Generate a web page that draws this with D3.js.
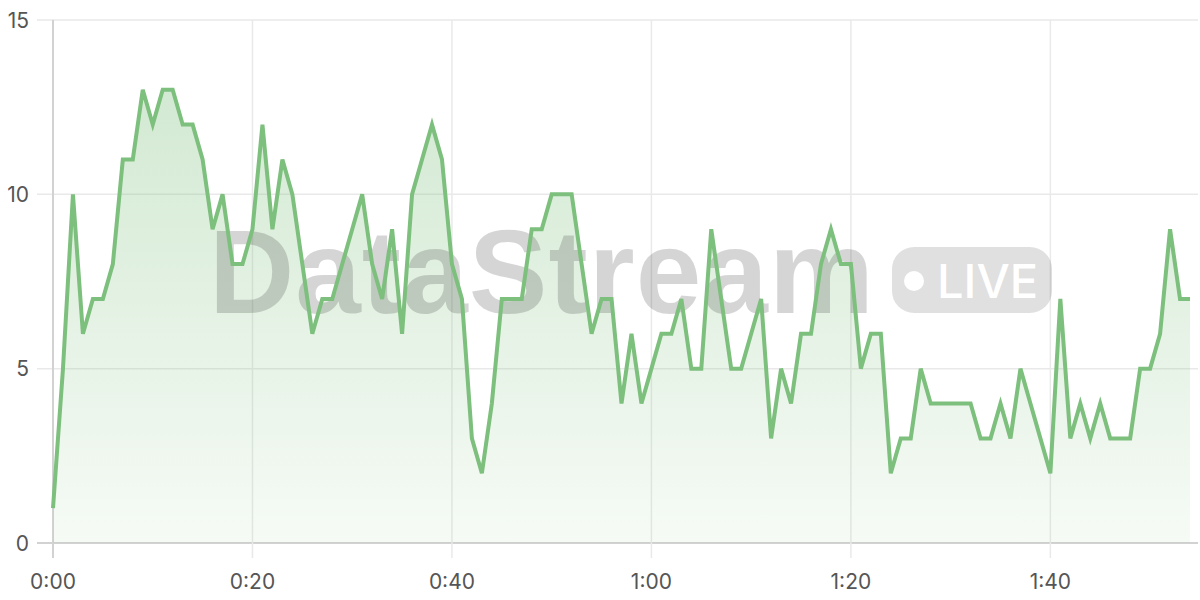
<!DOCTYPE html>
<html>
<head>
<meta charset="utf-8">
<script src="https://cdn.jsdelivr.net/npm/d3@7"></script>
<style>
  html, body { margin: 0; padding: 0; background: #fff; }
  svg { display: block; }
</style>
</head>
<body>
<svg id="chart" width="1200" height="600"></svg>
<script>
// ---- data ----
const seconds = d3.range(0, 115);
const values = [1,5,10,6,7,7,8,11,11,13,12,13,13,12,12,11,9,10,8,8,
  9,12,9,11,10,8,6,7,7,8,9,10,8,7,9,6,10,11,12,11,
  8,7,3,2,4,7,7,7,9,9,10,10,10,8,6,7,7,4,6,4,
  5,6,6,7,5,5,9,7,5,5,6,7,3,5,4,6,6,8,9,8,
  8,5,6,6,2,3,3,5,4,4,4,4,4,3,3,4,3,5,4,3,
  2,7,3,4,3,4,3,3,3,5,5,6,9,7,7];
const xTicks = [0, 20, 40, 60, 80, 100];
const yTicks = [0, 5, 10, 15];
const watermarkText = "DataStream";
const badgeText = "LIVE";

const data = seconds.map((s, i) => ({ s, v: values[i] }));

const svg = d3.select("#chart");
const x = d3.scaleLinear().domain([0, 114]).range([53, 1190]);
const y = d3.scaleLinear().domain([0, 15]).range([543, 20]);
const plotRight = 1198;

const fmt = s => Math.floor(s / 60) + ":" + String(s % 60).padStart(2, "0");

// gradient
const defs = svg.append("defs");
const grad = defs.append("linearGradient").attr("id", "fillGrad")
  .attr("gradientUnits", "userSpaceOnUse")
  .attr("x1", 0).attr("y1", y(13)).attr("x2", 0).attr("y2", y(0));
grad.append("stop").attr("offset", "0%").attr("stop-color", "rgb(125,191,125)").attr("stop-opacity", 0.34);
grad.append("stop").attr("offset", "100%").attr("stop-color", "rgb(125,191,125)").attr("stop-opacity", 0.07);

// grid lines (horizontal)
svg.append("g").selectAll("line").data(yTicks).join("line")
  .attr("x1", 37).attr("x2", plotRight)
  .attr("y1", d => y(d)).attr("y2", d => y(d))
  .attr("stroke", d => d === 0 ? "#d2d2d2" : "#e9e9e9")
  .attr("stroke-width", d => d === 0 ? 2 : 1.5);

// grid lines (vertical)
svg.append("g").selectAll("line").data(xTicks).join("line")
  .attr("x1", d => x(d)).attr("x2", d => x(d))
  .attr("y1", 20).attr("y2", 558)
  .attr("stroke", d => d === 0 ? "#d2d2d2" : "#e9e9e9")
  .attr("stroke-width", d => d === 0 ? 2 : 1.5);

// area
const area = d3.area().x(d => x(d.s)).y0(y(0)).y1(d => y(d.v));
svg.append("path").datum(data).attr("d", area).attr("fill", "url(#fillGrad)");

// watermark
const wm = svg.append("g");
wm.append("text")
  .attr("x", 209).attr("y", 313)
  .attr("font-family", "'Liberation Sans', Arial, sans-serif")
  .attr("font-weight", "bold")
  .attr("font-size", 118)
  .attr("letter-spacing", 1)
  .attr("fill", "rgba(0,0,0,0.165)")
  .text(watermarkText);
wm.append("rect")
  .attr("x", 892).attr("y", 247).attr("width", 160).attr("height", 66)
  .attr("rx", 22)
  .attr("fill", "rgba(0,0,0,0.12)");
wm.append("circle").attr("cx", 914).attr("cy", 281).attr("r", 10).attr("fill", "#fff");
wm.append("text")
  .attr("x", 937).attr("y", 298)
  .attr("font-family", "Inter, 'Liberation Sans', sans-serif")
  .attr("font-weight", 500)
  .attr("font-size", 47)
  .attr("fill", "#fff")
  .text(badgeText);

// line
const line = d3.line().x(d => x(d.s)).y(d => y(d.v));
svg.append("path").datum(data).attr("d", line)
  .attr("fill", "none")
  .attr("stroke", "#7dbf7d")
  .attr("stroke-width", 4)
  .attr("stroke-linejoin", "miter");

// axis labels
svg.append("g").selectAll("text").data(yTicks).join("text")
  .attr("x", 29).attr("y", d => y(d))
  .attr("dy", "0.36em")
  .attr("text-anchor", "end")
  .attr("font-family", "Inter, 'Liberation Sans', sans-serif")
  .attr("font-size", 21)
  .attr("fill", "#555")
  .text(d => d);

svg.append("g").selectAll("text").data(xTicks).join("text")
  .attr("x", d => x(d)).attr("y", 581)
  .attr("dy", "0.36em")
  .attr("text-anchor", "middle")
  .attr("font-family", "Inter, 'Liberation Sans', sans-serif")
  .attr("font-size", 21)
  .attr("fill", "#555")
  .text(d => fmt(d));
</script>
</body>
</html>
